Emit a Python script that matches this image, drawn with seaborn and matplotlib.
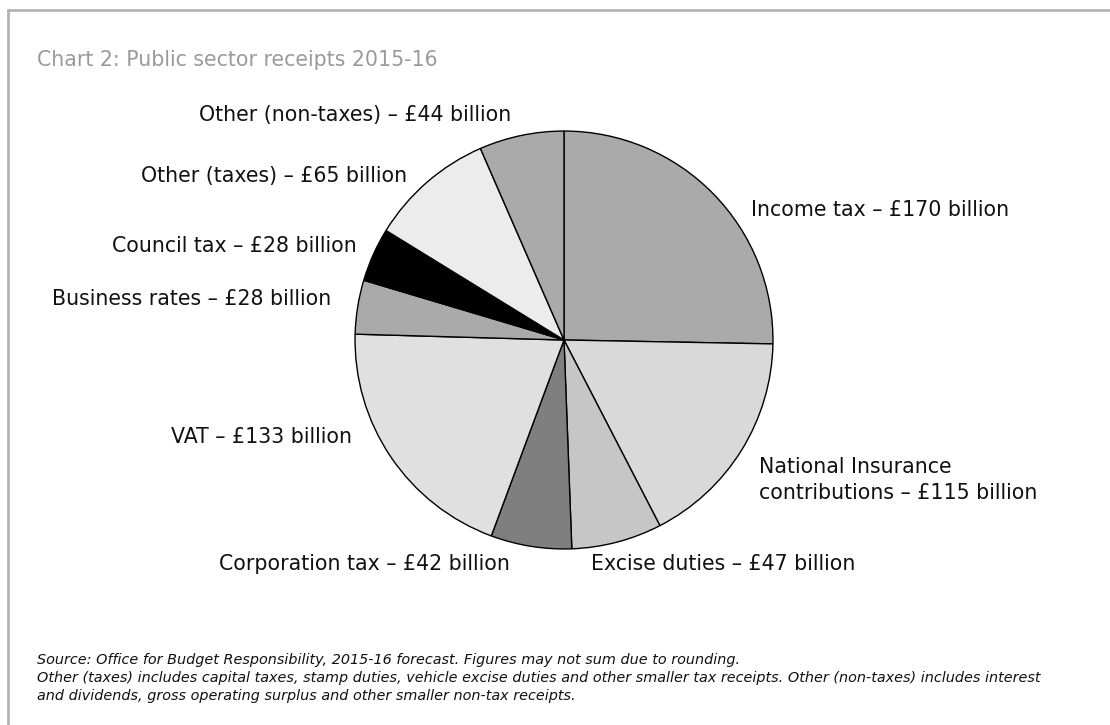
import matplotlib
matplotlib.use("Agg")
import matplotlib.pyplot as plt
from matplotlib.lines import Line2D
import seaborn as sns

# Receipts by source, 2015-16 (£ billion), clockwise from 12 o'clock
categories = [
    "Income tax",
    "National Insurance\ncontributions",
    "Excise duties",
    "Corporation tax",
    "VAT",
    "Business rates",
    "Council tax",
    "Other (taxes)",
    "Other (non-taxes)",
]
receipts = [170, 115, 47, 42, 133, 28, 28, 65, 44]

slice_colors = ["#aaaaaa", "#d9d9d9", "#c6c6c6", "#7f7f7f", "#e0e0e0",
                "#aaaaaa", "#000000", "#ececec", "#aaaaaa"]

# Label anchor points in figure pixels (x, y from top) and horizontal alignment
label_pos = [
    (751, 210, "left"),
    (759, 480, "left"),
    (591, 564, "left"),
    (510, 564, "right"),
    (352, 437, "right"),
    (331, 299, "right"),
    (357, 246, "right"),
    (407, 176, "right"),
    (511, 115, "right"),
]

W, H = 1110, 725
sns.set_theme(style="white")
plt.rcParams["font.family"] = ["DejaVu Sans"]

fig = plt.figure(figsize=(W / 100, H / 100), dpi=100)
fig.patch.set_facecolor("white")

cx, cy, r = 564, 340, 210
ax = fig.add_axes([(cx - r) / W, (H - cy - r) / H, 2 * r / W, 2 * r / H])
ax.pie(receipts, colors=slice_colors, startangle=90, counterclock=False,
       radius=1.0, wedgeprops=dict(edgecolor="black", linewidth=1.0))
ax.set_xlim(-1.005, 1.005)
ax.set_ylim(-1.005, 1.005)
ax.set_aspect("equal")
ax.axis("off")

for name, val, (px, py, ha) in zip(categories, receipts, label_pos):
    fig.text(px / W, 1 - py / H, f"{name} – £{val} billion",
             ha=ha, va="center", fontsize=14.8, color="#111111",
             linespacing=1.38)

fig.text(37 / W, 1 - 60 / H, "Chart 2: Public sector receipts 2015-16",
         ha="left", va="center", fontsize=14.8, color="#9a9a9a")

footnote = (
    "Source: Office for Budget Responsibility, 2015-16 forecast. Figures may not sum due to rounding.\n"
    "Other (taxes) includes capital taxes, stamp duties, vehicle excise duties and other smaller tax receipts. "
    "Other (non-taxes) includes interest\n"
    "and dividends, gross operating surplus and other smaller non-tax receipts."
)
fig.text(37 / W, 1 - 678 / H, footnote, ha="left", va="center",
         fontsize=10.4, style="italic", color="#111111", linespacing=1.4)

# Panel frame: top and left rules
fig.add_artist(Line2D([8 / W, 1.0], [1 - 10 / H, 1 - 10 / H],
                      transform=fig.transFigure, color="#b4b4b4", linewidth=2))
fig.add_artist(Line2D([8 / W, 8 / W], [1 - 10 / H, 0.0],
                      transform=fig.transFigure, color="#b4b4b4", linewidth=2))

fig.savefig("out.png", dpi=100, facecolor="white")
